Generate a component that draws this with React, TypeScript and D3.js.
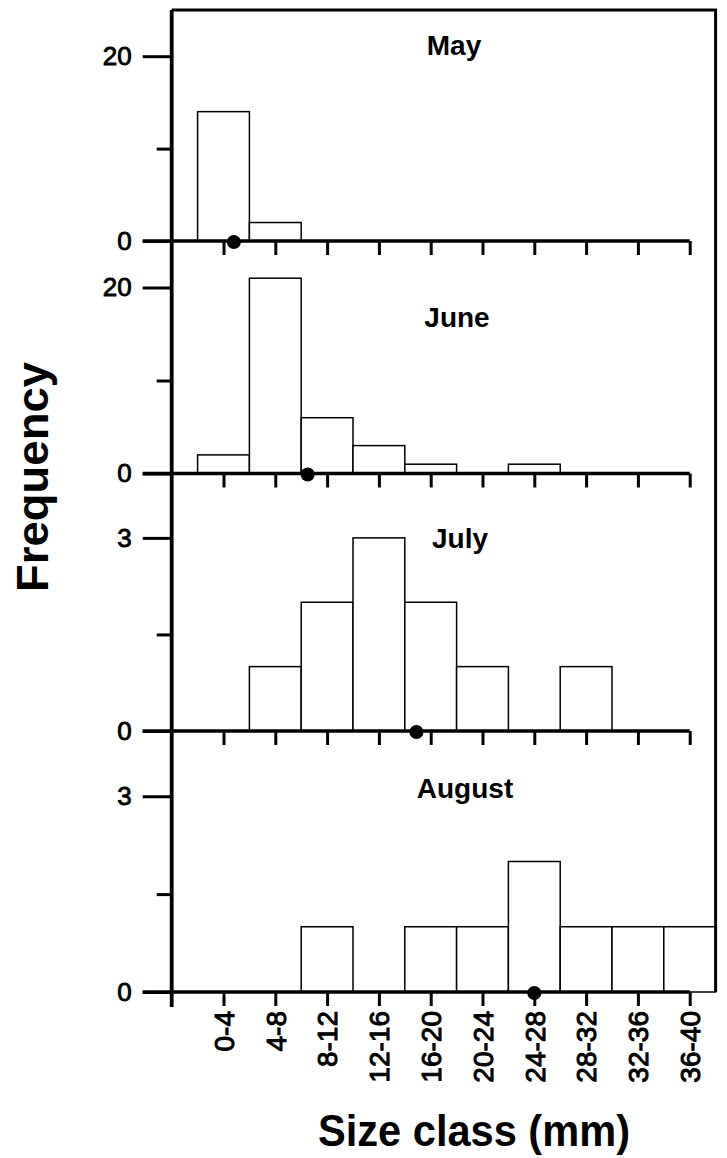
import React, { useEffect, useRef } from 'react';
import * as d3 from 'd3';

// size classes (mm) shared by all months
const sizeClasses = ['0-4', '4-8', '8-12', '12-16', '16-20', '20-24', '24-28', '28-32', '32-36', '36-40'];

const months = ['May', 'June', 'July', 'August'];
const mayCounts = [14, 2, 0, 0, 0, 0, 0, 0, 0, 0];
const juneCounts = [2, 21, 6, 3, 1, 0, 1, 0, 0, 0];
const julyCounts = [0, 1, 2, 3, 2, 1, 0, 1, 0, 0];
const augustCounts = [0, 0, 1, 0, 1, 1, 2, 1, 1, 1];

// mean size (mm) shown as a dot on each axis
const meanSizes = [2.8, 8.5, 16.9, 26.0];

const yMaxes = [25, 25, 4, 4];
const yLabelTicks = [[0, 20], [0, 20], [0, 3], [0, 3]];
const yMinorTicks = [[10], [10], [1.5], [1.5]];

const FONT = 'Arial, "Liberation Sans", Helvetica, sans-serif';

function App() {
  const svgRef = useRef<SVGSVGElement>(null);

  useEffect(() => {
    const width = 727, height = 1158;
    const svg = d3.select(svgRef.current);
    svg.selectAll('*').remove();
    svg.attr('width', width).attr('height', height);

    const counts = [mayCounts, juneCounts, julyCounts, augustCounts];

    // panel frame (pixels)
    const plotTop = 10;
    const panelBottoms = [241, 473.5, 731, 992];
    const titleOffsets = [45, 86, 74, 67];
    const titleX = [454, 457, 460, 465];

    const x = d3.scaleLinear().domain([-2, 40]).range([171.7, 715.6]);
    const classes = sizeClasses.map(s => {
      const [lo, hi] = s.split('-').map(Number);
      return { label: s, lo, hi, mid: (lo + hi) / 2 };
    });
    const tickVals = classes.map(c => c.mid);

    const g = svg.append('g');

    months.forEach((m, i) => {
      const top = i === 0 ? plotTop : panelBottoms[i - 1];
      const bottom = panelBottoms[i];
      const y = d3.scaleLinear().domain([0, yMaxes[i]]).range([bottom, top]);

      const data = classes.map((c, k) => ({ ...c, v: counts[i][k] })).filter(d => d.v > 0);

      // bars
      g.selectAll(null)
        .data(data)
        .enter()
        .append('rect')
        .attr('x', d => x(d.lo))
        .attr('y', d => y(d.v))
        .attr('width', d => x(d.hi) - x(d.lo))
        .attr('height', d => y(0) - y(d.v))
        .attr('fill', '#fff')
        .attr('stroke', '#000')
        .attr('stroke-width', 1.5);

      // y axis major ticks + labels
      const yAx = g.append('g')
        .attr('transform', `translate(${x(-2)},0)`)
        .call(d3.axisLeft(y).tickValues(yLabelTicks[i]).tickSize(29).tickPadding(11).tickFormat(d3.format('d')));
      yAx.select('.domain').remove();
      yAx.selectAll('line').attr('stroke', '#000').attr('stroke-width', 3);
      yAx.selectAll('text')
        .attr('fill', '#000')
        .style('font-family', FONT)
        .style('font-size', '26px')
        .attr('stroke', '#000')
        .attr('stroke-width', 0.9);

      // y axis minor ticks
      const yMin = g.append('g')
        .attr('transform', `translate(${x(-2)},0)`)
        .call(d3.axisLeft(y).tickValues(yMinorTicks[i]).tickSize(15).tickFormat(() => ''));
      yMin.select('.domain').remove();
      yMin.selectAll('line').attr('stroke', '#000').attr('stroke-width', 3);

      // zero line
      g.append('line')
        .attr('x1', x(-2) - 29)
        .attr('x2', x(38))
        .attr('y1', y(0))
        .attr('y2', y(0))
        .attr('stroke', '#000')
        .attr('stroke-width', 3.4);

      // x ticks
      const xAx = g.append('g')
        .attr('transform', `translate(0,${y(0)})`)
        .call(d3.axisBottom(x).tickValues(tickVals).tickSize(14)
          .tickFormat((d, k) => (i === months.length - 1 ? classes[k].label : '')));
      xAx.select('.domain').remove();
      xAx.selectAll('line').attr('stroke', '#000').attr('stroke-width', 3);
      xAx.selectAll('text')
        .attr('transform', 'rotate(-90)')
        .attr('x', -19)
        .attr('y', 0)
        .attr('dy', '0.35em')
        .attr('text-anchor', 'end')
        .attr('fill', '#000')
        .style('font-family', FONT)
        .style('font-size', '28px')
        .attr('stroke', '#000')
        .attr('stroke-width', 1);

      // mean dot
      g.append('circle')
        .attr('cx', x(meanSizes[i]))
        .attr('cy', y(0) + 1)
        .attr('r', 7)
        .attr('fill', '#000');

      // month title
      g.append('text')
        .attr('x', titleX[i])
        .attr('y', top + titleOffsets[i])
        .attr('text-anchor', 'middle')
        .style('font-family', FONT)
        .style('font-size', '28px')
        .style('font-weight', 'bold')
        .text(m);
    });

    // left axis, top and right frame
    g.append('line')
      .attr('x1', x(-2)).attr('x2', x(-2))
      .attr('y1', plotTop).attr('y2', panelBottoms[3] + 15)
      .attr('stroke', '#000').attr('stroke-width', 3.8);
    g.append('path')
      .attr('d', `M${x(-2)},${plotTop}H${x(40)}V${panelBottoms[3]}`)
      .attr('fill', 'none')
      .attr('stroke', '#000')
      .attr('stroke-width', 3);

    // axis titles
    g.append('text')
      .attr('transform', `translate(48,477) rotate(-90)`)
      .attr('text-anchor', 'middle')
      .attr('textLength', 230)
      .attr('lengthAdjust', 'spacingAndGlyphs')
      .style('font-family', FONT)
      .style('font-size', '44px')
      .style('font-weight', 'bold')
      .text('Frequency');

    g.append('text')
      .attr('x', 474)
      .attr('y', 1146)
      .attr('text-anchor', 'middle')
      .attr('textLength', 312)
      .attr('lengthAdjust', 'spacingAndGlyphs')
      .style('font-family', FONT)
      .style('font-size', '44px')
      .style('font-weight', 'bold')
      .text('Size class (mm)');
  }, []);

  return (
    <div style={{ position: 'absolute', left: 0, top: 0 }}>
      <svg ref={svgRef} style={{ display: 'block' }}></svg>
    </div>
  );
}

export default App;
